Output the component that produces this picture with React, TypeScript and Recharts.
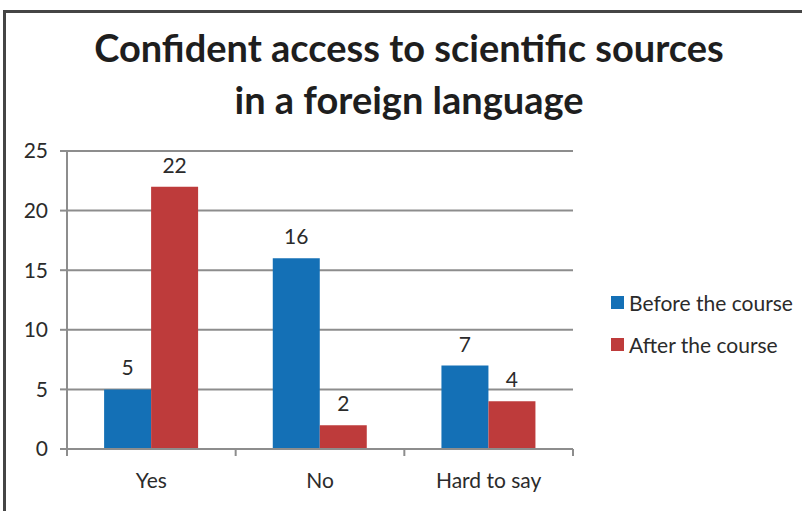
import { Bar, BarChart, CartesianGrid, LabelList, XAxis, YAxis } from 'recharts';

const categories = ['Yes', 'No', 'Hard to say'];
const beforeCourse = [5, 16, 7];
const afterCourse = [22, 2, 4];
const yTicks = [0, 5, 10, 15, 20, 25];
const seriesNames = ['Before the course', 'After the course'];

const BLUE = '#1470b6';
const RED = '#be3b3b';
const GRID = '#8d8d8d';
const TEXT = '#2b2b2b';
const FONT = 'Lato, "Open Sans", sans-serif';

const W = 802;
const H = 511;
const LEFT = 67;
const RIGHT_EDGE = 573;
const BAND = (RIGHT_EDGE - LEFT) / categories.length;

const chartData = categories.map((name, i) => ({
  name,
  before: beforeCourse[i],
  after: afterCourse[i],
}));

// category label plus tick marks at band edges
function CategoryTick(props: any) {
  const { x, y, payload, index } = props;
  const half = BAND / 2;
  return (
    <g>
      <line x1={x - half} x2={x - half} y1={y - 8} y2={y - 1} stroke={GRID} strokeWidth={2} />
      {index === categories.length - 1 && (
        <line x1={x + half} x2={x + half} y1={y - 8} y2={y - 1} stroke={GRID} strokeWidth={2} />
      )}
      <text x={x} y={y + 31} textAnchor="middle" fill={TEXT} fontSize={21} fontFamily={FONT}>
        {payload.value}
      </text>
    </g>
  );
}

export default function App() {
  const colors = [BLUE, RED];
  return (
    <div style={{ position: 'absolute', left: 0, top: 0, width: W, height: H, background: '#fff', overflow: 'hidden' }}>
      <div
        style={{
          position: 'absolute',
          left: 3,
          top: 10,
          width: W + 20,
          height: H + 20,
          border: '3px solid #454545',
        }}
      />
      <div
        style={{
          position: 'absolute',
          left: 0,
          top: 21,
          width: 818,
          textAlign: 'center',
          fontFamily: FONT,
          fontWeight: 700,
          fontSize: 38,
          lineHeight: '52px',
          color: '#1e1e1e',
        }}
      >
        Confident access to scientific sources
        <br />
        in a foreign language
      </div>
      <div style={{ position: 'absolute', left: 0, top: 0 }}>
        <BarChart
          width={W}
          height={H}
          data={chartData}
          margin={{ top: 151, right: W - RIGHT_EDGE, bottom: 22, left: 0 }}
          barCategoryGap="22%"
          barGap={0}
        >
          <CartesianGrid vertical={false} stroke={GRID} strokeWidth={2} />
          <XAxis
            dataKey="name"
            height={40}
            axisLine={{ stroke: GRID, strokeWidth: 2 }}
            tickLine={false}
            tick={<CategoryTick />}
            interval={0}
          />
          <YAxis
            width={LEFT}
            domain={[0, 25]}
            ticks={yTicks}
            axisLine={{ stroke: GRID, strokeWidth: 2 }}
            tickLine={{ stroke: GRID, strokeWidth: 2 }}
            tickSize={7}
            tickMargin={12}
            tick={{ fill: TEXT, fontSize: 21, fontFamily: FONT }}
          />
          <Bar dataKey="before" name={seriesNames[0]} fill={BLUE} isAnimationActive={false}>
            <LabelList dataKey="before" position="top" offset={14} fill={TEXT} fontSize={21} fontFamily={FONT} />
          </Bar>
          <Bar dataKey="after" name={seriesNames[1]} fill={RED} isAnimationActive={false}>
            <LabelList dataKey="after" position="top" offset={14} fill={TEXT} fontSize={21} fontFamily={FONT} />
          </Bar>
        </BarChart>
      </div>
      <div style={{ position: 'absolute', left: 611, top: 281, fontFamily: FONT, fontSize: 21, color: TEXT }}>
        {seriesNames.map((n, i) => (
          <div key={n} style={{ display: 'flex', alignItems: 'center', height: 42 }}>
            <span style={{ display: 'inline-block', width: 13, height: 13, background: colors[i], marginRight: 5 }} />
            {n}
          </div>
        ))}
      </div>
    </div>
  );
}
